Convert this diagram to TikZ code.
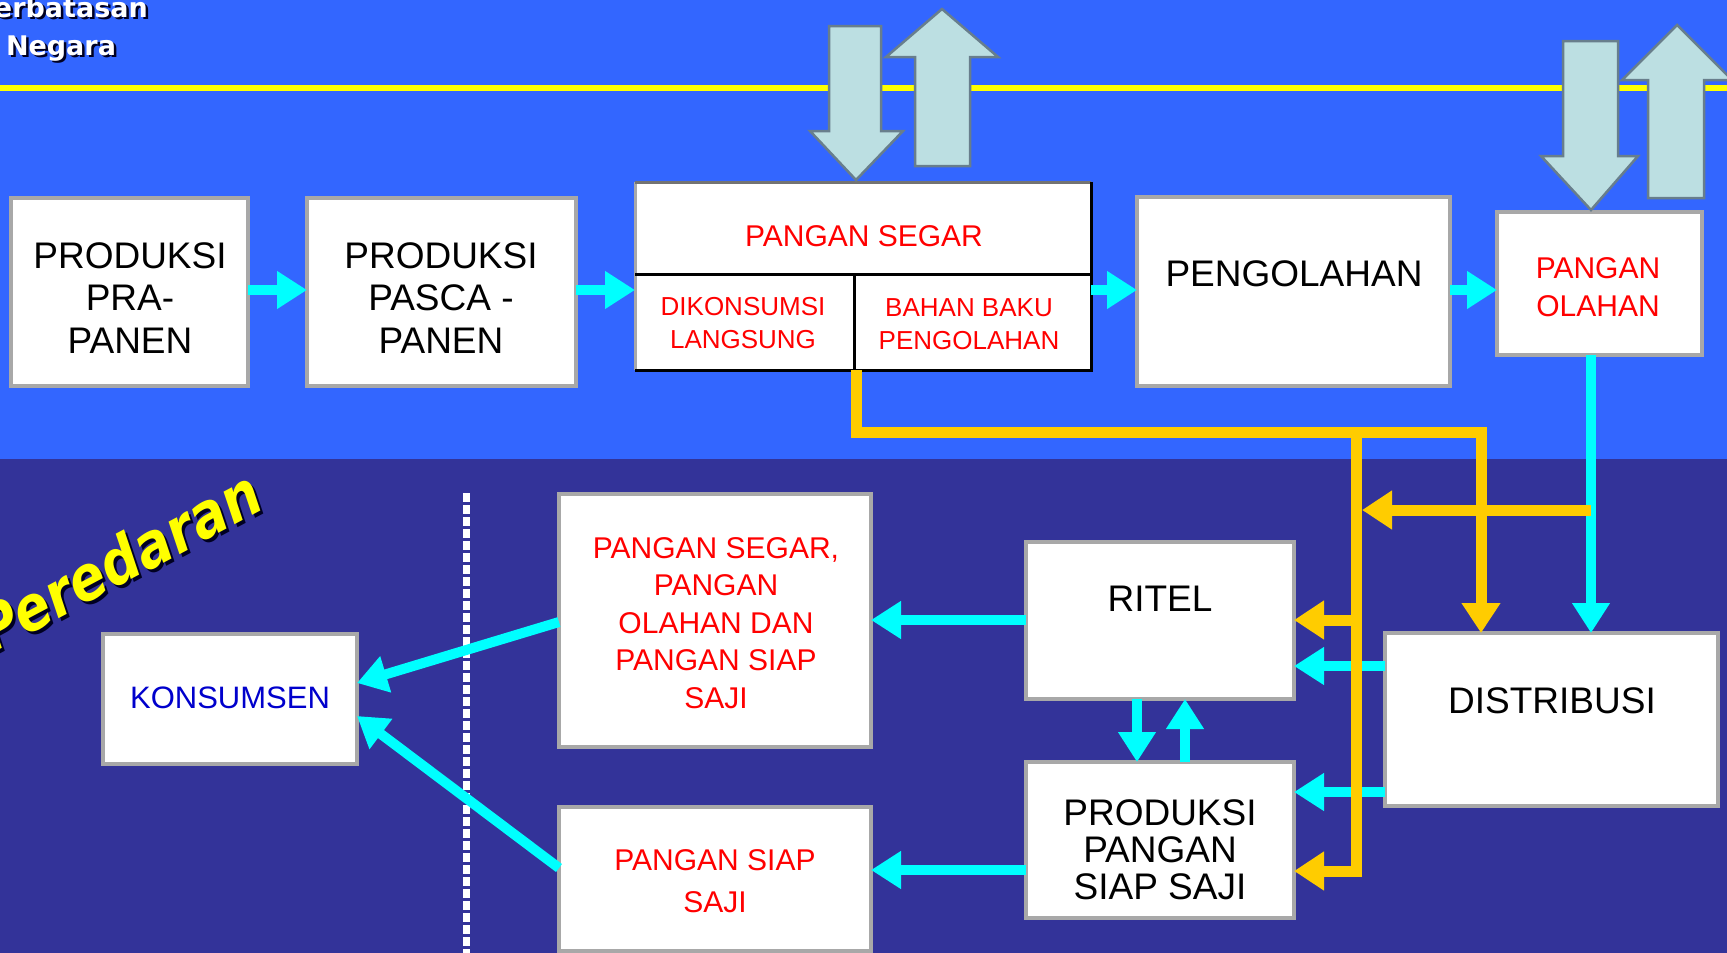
\documentclass[tikz,border=0pt]{standalone}
\usepackage{fontspec}
\setmainfont{Liberation Sans}
\newfontfamily\dvsans{DejaVu Sans}
\newfontfamily\peredfont[FakeStretch=0.86]{DejaVu Sans}
\usetikzlibrary{arrows.meta}
\definecolor{topbg}{HTML}{3366FF}
\definecolor{botbg}{HTML}{333399}
\definecolor{cy}{HTML}{00FFFF}
\definecolor{yl}{HTML}{FFCC00}
\definecolor{yline}{HTML}{FFFF00}
\definecolor{blkfill}{HTML}{BCDFE2}
\definecolor{blkedge}{HTML}{687E8C}
\definecolor{boxedge}{HTML}{A8A8A8}
\definecolor{tred}{HTML}{FF0000}
\definecolor{tblue}{HTML}{0000CC}
\definecolor{shadowc}{HTML}{000022}
\begin{document}
\begin{tikzpicture}[x=1pt,y=-1pt,
 box/.style={draw=boxedge,line width=3.5pt,fill=white,inner sep=0pt,outer sep=0pt},
 blktxt/.style={font=\fontsize{37}{42.5}\selectfont,align=center,text=black,inner sep=0pt},
 redlbl/.style={font=\fontsize{30}{37.5}\selectfont,align=center,text=tred,inner sep=0pt},
 smallred/.style={font=\fontsize{26}{33}\selectfont,align=center,text=tred,inner sep=0pt},
 cyarrow/.style={draw=cy,line width=10pt,-{Triangle[length=30pt,width=36pt]}},
 ylarrow/.style={draw=yl,line width=11pt,line join=miter,-{Triangle[length=30pt,width=37pt]}},
 blockarrow/.style={fill=blkfill,draw=blkedge,line width=2.5pt,line join=miter},
 headtxt/.style={font=\dvsans\bfseries\fontsize{27}{38}\selectfont,anchor=base,inner sep=0pt},
 peredtxt/.style={font=\peredfont\bfseries\itshape\fontsize{62}{62}\selectfont,anchor=base east,rotate=28,inner sep=0pt},
]
\useasboundingbox (0,0) rectangle (1727,953);
\clip (0,0) rectangle (1727,953);
% backgrounds
\fill[topbg] (0,0) rectangle (1727,459);
\fill[botbg] (0,459) rectangle (1727,953);
\draw[yline,line width=6pt] (0,88) -- (1727,88);
% header texts
\node[headtxt,text=shadowc] (sh-batas) at (63.5,19.5) {Perbatasan};
\node[headtxt,text=white] (t-batas) at (61,17) {Perbatasan};
\node[headtxt,text=shadowc] (sh-negara) at (63.5,57.5) {Negara};
\node[headtxt,text=white] (t-negara) at (61,55) {Negara};
\node[peredtxt,text=shadowc] (sh-pered) at (270,511) {Peredaran};
\node[peredtxt,text=yline] (t-pered) at (267,508) {Peredaran};
% dotted separator
\draw[white,line width=7pt,dash pattern=on 9pt off 3pt] (466,493) -- (466,953);
% boxes
\node[box,minimum width=237pt,minimum height=188pt] (pra) at (129.5,292) {};
\node[box,minimum width=269pt,minimum height=188pt] (pasca) at (441.5,292) {};
\node[fill=white,inner sep=0pt,outer sep=0pt,minimum width=456pt,minimum height=188pt] (segar) at (863,276) {};
\draw[boxedge,line width=3pt] (segar.south west) -- (segar.north west);
\draw[black!55,line width=3pt] (segar.north west) -- (segar.north east);
\draw[black,line width=3pt] (segar.north east) -- (segar.south east) -- (segar.south west);
\coordinate (divl) at (635,274);
\coordinate (divt) at (854,274);
\draw[black,line width=3pt] (segar.west |- divl) -- (segar.east |- divl);
\draw[black,line width=3pt] (divt) -- (divt |- segar.south);
\node[box,minimum width=313pt,minimum height=189pt] (pengolahan) at (1293.5,291.5) {};
\node[box,minimum width=205pt,minimum height=143pt] (olahan) at (1599.5,283.5) {};
\node[box,minimum width=333pt,minimum height=173pt] (distrib) at (1551.5,719.5) {};
\node[box,minimum width=268pt,minimum height=157pt] (ritel) at (1160,620.5) {};
\node[box,minimum width=268pt,minimum height=156pt] (ppss) at (1160,840) {};
\node[box,minimum width=312pt,minimum height=253pt] (mix) at (715,620.5) {};
\node[box,minimum width=312pt,minimum height=144pt] (saji) at (715,879) {};
\node[box,minimum width=254pt,minimum height=130pt] (konsumen) at (230,699) {};
% block arrows
\draw[blockarrow] (829,26) -- (881,26) -- (881,131) -- (903,131) -- (856,180) -- (810,131) -- (829,131) -- cycle;
\draw[blockarrow] (915,166) -- (970,166) -- (970,57) -- (998,57) -- (942,9) -- (886,57) -- (915,57) -- cycle;
\draw[blockarrow] (1563,41) -- (1618,41) -- (1618,156) -- (1638,156) -- (1591,210) -- (1541,156) -- (1563,156) -- cycle;
\draw[blockarrow] (1648,198) -- (1704,198) -- (1704,80) -- (1732,80) -- (1677,25) -- (1622,80) -- (1648,80) -- cycle;
% helper coordinates
\coordinate (h290) at (0,290);
\coordinate (h666) at (0,666);
\coordinate (h792) at (0,792);
\coordinate (h620) at (0,620);
\coordinate (h870) at (0,870);
\coordinate (h622) at (0,622);
\coordinate (h683) at (0,683);
\coordinate (h868) at (0,868);
\coordinate (h716) at (0,716);
\coordinate (v1137) at (1137,0);
\coordinate (v1185) at (1185,0);
\coordinate (v1591) at (1591,0);
% cyan connectors
\draw[cyarrow] (pra.east |- h290) -- (pasca.west |- h290);
\draw[cyarrow] (pasca.east |- h290) -- (segar.west |- h290);
\draw[cyarrow] (segar.east |- h290) -- (pengolahan.west |- h290);
\draw[cyarrow] (pengolahan.east |- h290) -- (olahan.west |- h290);
\draw[cyarrow] (olahan.south -| v1591) -- (distrib.north -| v1591);
\draw[cyarrow] (distrib.west |- h666) -- (ritel.east |- h666);
\draw[cyarrow] (distrib.west |- h792) -- (ppss.east |- h792);
\draw[cyarrow] (ritel.south -| v1137) -- (ppss.north -| v1137);
\draw[cyarrow] (ppss.north -| v1185) -- (ritel.south -| v1185);
\draw[cyarrow] (ritel.west |- h620) -- (mix.east |- h620);
\draw[cyarrow] (ppss.west |- h870) -- (saji.east |- h870);
\draw[cyarrow] (mix.west |- h622) -- (konsumen.east |- h683);
\draw[cyarrow] (saji.west |- h868) -- (konsumen.east |- h716);
% yellow connectors
\coordinate (yA) at (856,432);
\coordinate (yB) at (1356,432);
\coordinate (yC) at (1481,432);
\coordinate (yD) at (1356,871);
\coordinate (yE) at (1356,620);
\coordinate (yF) at (1591,510);
\coordinate (yG) at (1362,510);
\draw[ylarrow] (segar.south -| yA) -- (yA) -- (yC) -- (yC |- distrib.north);
\draw[ylarrow] (yB) -- (yD) -- (yD -| ppss.east);
\draw[ylarrow] (yE) -- (yE -| ritel.east);
\draw[ylarrow] (yF) -- (yG);
% labels
\node[blktxt] (t-pra) at (130,298) {PRODUKSI\\PRA-\\PANEN};
\node[blktxt] (t-pasca) at (441,298) {PRODUKSI\\PASCA -\\PANEN};
\node[blktxt] (t-peng) at (1294,274) {PENGOLAHAN};
\node[blktxt] (t-ritel) at (1160,599) {RITEL};
\node[blktxt] (t-dist) at (1552,701) {DISTRIBUSI};
\node[blktxt,font=\fontsize{37}{37}\selectfont] (t-ppss) at (1160,850) {PRODUKSI\\PANGAN\\SIAP SAJI};
\node[redlbl] (t-segar) at (864,236) {PANGAN SEGAR};
\node[smallred] (t-dik) at (743,323) {DIKONSUMSI\\LANGSUNG};
\node[smallred] (t-bahan) at (969,324) {BAHAN BAKU\\PENGOLAHAN};
\node[redlbl] (t-olahan) at (1598,287) {PANGAN\\OLAHAN};
\node[redlbl] (t-mix) at (716,623) {PANGAN SEGAR,\\PANGAN\\OLAHAN DAN\\PANGAN SIAP\\SAJI};
\node[redlbl,font=\fontsize{30}{42}\selectfont] (t-saji) at (715,881) {PANGAN SIAP\\SAJI};
\node[font=\fontsize{31}{31}\selectfont,text=tblue,inner sep=0pt] (t-kons) at (230,698) {KONSUMSEN};
\end{tikzpicture}
\end{document}
